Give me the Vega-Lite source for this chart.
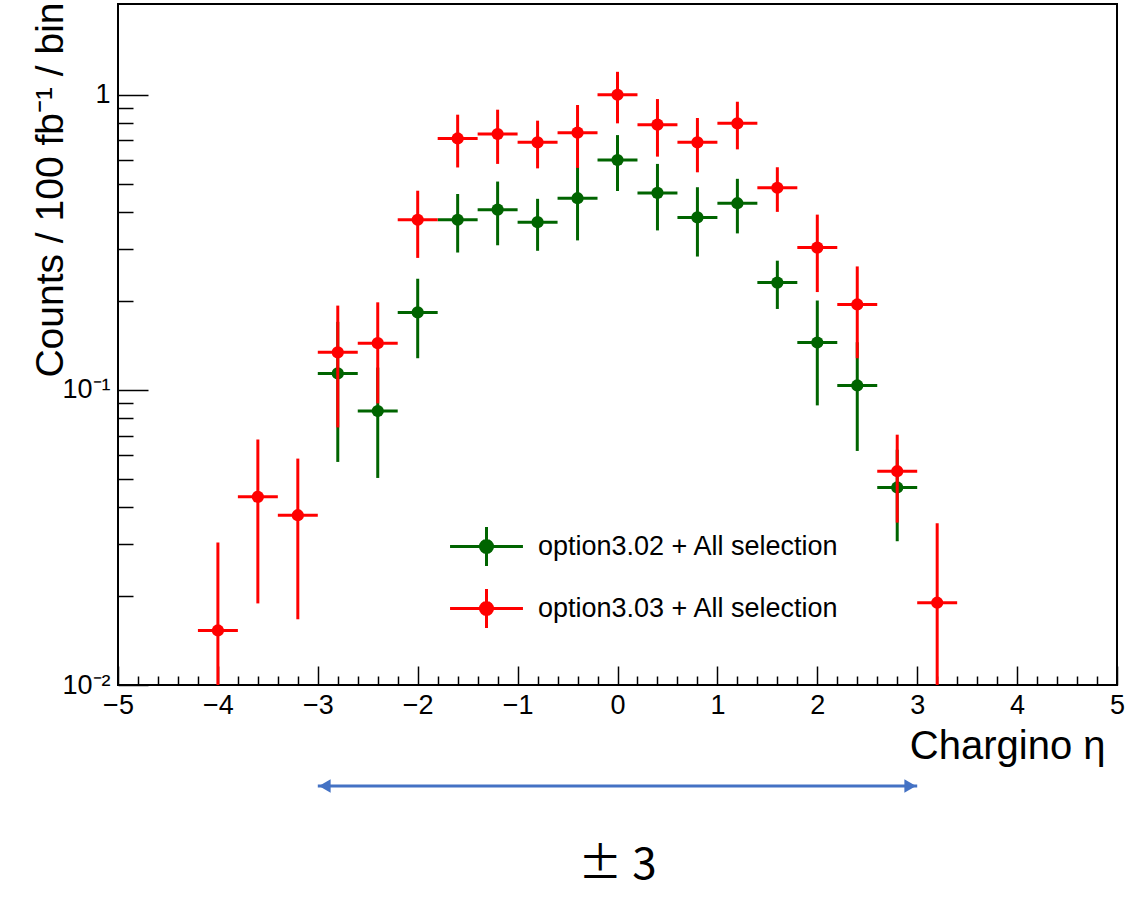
{
  "$schema": "https://vega.github.io/schema/vega-lite/v6.json",
  "width": 999,
  "height": 681,
  "autosize": {"type": "none"},
  "padding": {"left": 118, "top": 4, "right": 15, "bottom": 215},
  "background": "white",
  "config": {"view": {"stroke": "black", "strokeWidth": 2}, "font": "Liberation Sans"},
  "datasets": {
    "hist": [
      {"series": "option3.02 + All selection", "eta": -2.8, "etaLo": -3.0, "etaHi": -2.6, "v": 0.1137, "lo": 0.057, "hi": 0.170},
      {"series": "option3.02 + All selection", "eta": -2.4, "etaLo": -2.6, "etaHi": -2.2, "v": 0.0848, "lo": 0.0503, "hi": 0.119},
      {"series": "option3.02 + All selection", "eta": -2.0, "etaLo": -2.2, "etaHi": -1.8, "v": 0.183, "lo": 0.128, "hi": 0.238},
      {"series": "option3.02 + All selection", "eta": -1.6, "etaLo": -1.8, "etaHi": -1.4, "v": 0.377, "lo": 0.292, "hi": 0.461},
      {"series": "option3.02 + All selection", "eta": -1.2, "etaLo": -1.4, "etaHi": -1.0, "v": 0.408, "lo": 0.309, "hi": 0.508},
      {"series": "option3.02 + All selection", "eta": -0.8, "etaLo": -1.0, "etaHi": -0.6, "v": 0.370, "lo": 0.296, "hi": 0.444},
      {"series": "option3.02 + All selection", "eta": -0.4, "etaLo": -0.6, "etaHi": -0.2, "v": 0.446, "lo": 0.321, "hi": 0.571},
      {"series": "option3.02 + All selection", "eta": 0.0, "etaLo": -0.2, "etaHi": 0.2, "v": 0.601, "lo": 0.472, "hi": 0.730},
      {"series": "option3.02 + All selection", "eta": 0.4, "etaLo": 0.2, "etaHi": 0.6, "v": 0.465, "lo": 0.347, "hi": 0.583},
      {"series": "option3.02 + All selection", "eta": 0.8, "etaLo": 0.6, "etaHi": 1.0, "v": 0.384, "lo": 0.283, "hi": 0.486},
      {"series": "option3.02 + All selection", "eta": 1.2, "etaLo": 1.0, "etaHi": 1.4, "v": 0.429, "lo": 0.339, "hi": 0.519},
      {"series": "option3.02 + All selection", "eta": 1.6, "etaLo": 1.4, "etaHi": 1.8, "v": 0.231, "lo": 0.188, "hi": 0.274},
      {"series": "option3.02 + All selection", "eta": 2.0, "etaLo": 1.8, "etaHi": 2.2, "v": 0.1447, "lo": 0.0886, "hi": 0.2008},
      {"series": "option3.02 + All selection", "eta": 2.4, "etaLo": 2.2, "etaHi": 2.6, "v": 0.1035, "lo": 0.0621, "hi": 0.145},
      {"series": "option3.02 + All selection", "eta": 2.8, "etaLo": 2.6, "etaHi": 3.0, "v": 0.0467, "lo": 0.0307, "hi": 0.0627},
      {"series": "option3.03 + All selection", "eta": -4.0, "etaLo": -4.2, "etaHi": -3.8, "v": 0.0153, "lo": 0.0002, "hi": 0.0304},
      {"series": "option3.03 + All selection", "eta": -3.6, "etaLo": -3.8, "etaHi": -3.4, "v": 0.0434, "lo": 0.0189, "hi": 0.0679},
      {"series": "option3.03 + All selection", "eta": -3.2, "etaLo": -3.4, "etaHi": -3.0, "v": 0.0376, "lo": 0.0167, "hi": 0.0585},
      {"series": "option3.03 + All selection", "eta": -2.8, "etaLo": -3.0, "etaHi": -2.6, "v": 0.134, "lo": 0.0746, "hi": 0.193},
      {"series": "option3.03 + All selection", "eta": -2.4, "etaLo": -2.6, "etaHi": -2.2, "v": 0.144, "lo": 0.090, "hi": 0.198},
      {"series": "option3.03 + All selection", "eta": -2.0, "etaLo": -2.2, "etaHi": -1.8, "v": 0.377, "lo": 0.280, "hi": 0.473},
      {"series": "option3.03 + All selection", "eta": -1.6, "etaLo": -1.8, "etaHi": -1.4, "v": 0.711, "lo": 0.567, "hi": 0.856},
      {"series": "option3.03 + All selection", "eta": -1.2, "etaLo": -1.4, "etaHi": -1.0, "v": 0.736, "lo": 0.583, "hi": 0.890},
      {"series": "option3.03 + All selection", "eta": -0.8, "etaLo": -1.0, "etaHi": -0.6, "v": 0.690, "lo": 0.563, "hi": 0.817},
      {"series": "option3.03 + All selection", "eta": -0.4, "etaLo": -0.6, "etaHi": -0.2, "v": 0.744, "lo": 0.565, "hi": 0.923},
      {"series": "option3.03 + All selection", "eta": 0.0, "etaLo": -0.2, "etaHi": 0.2, "v": 1.0, "lo": 0.80, "hi": 1.196},
      {"series": "option3.03 + All selection", "eta": 0.4, "etaLo": 0.2, "etaHi": 0.6, "v": 0.792, "lo": 0.617, "hi": 0.967},
      {"series": "option3.03 + All selection", "eta": 0.8, "etaLo": 0.6, "etaHi": 1.0, "v": 0.690, "lo": 0.546, "hi": 0.834},
      {"series": "option3.03 + All selection", "eta": 1.2, "etaLo": 1.0, "etaHi": 1.4, "v": 0.800, "lo": 0.653, "hi": 0.947},
      {"series": "option3.03 + All selection", "eta": 1.6, "etaLo": 1.4, "etaHi": 1.8, "v": 0.484, "lo": 0.401, "hi": 0.568},
      {"series": "option3.03 + All selection", "eta": 2.0, "etaLo": 1.8, "etaHi": 2.2, "v": 0.3035, "lo": 0.2145, "hi": 0.3925},
      {"series": "option3.03 + All selection", "eta": 2.4, "etaLo": 2.2, "etaHi": 2.6, "v": 0.1947, "lo": 0.128, "hi": 0.262},
      {"series": "option3.03 + All selection", "eta": 2.8, "etaLo": 2.6, "etaHi": 3.0, "v": 0.053, "lo": 0.0355, "hi": 0.0705},
      {"series": "option3.03 + All selection", "eta": 3.2, "etaLo": 3.0, "etaHi": 3.4, "v": 0.019, "lo": 0.0027, "hi": 0.0353}
    ],
    "arrow": [{"from": -3, "to": 3, "level": 0.00455}],
    "heads": [{"eta": -2.93, "level": 0.00455, "dir": "triangle-left"}, {"eta": 2.93, "level": 0.00455, "dir": "triangle-right"}],
    "note": [{"eta": 0, "level": 0.00244, "text": "± 3"}]
  },
  "resolve": {"axis": {"x": "independent", "y": "independent"}},
  "layer": [
    {
      "data": {"name": "hist"},
      "transform": [{"filter": "datum.series === 'option3.02 + All selection'"}],
      "mark": {"type": "rule", "strokeWidth": 3, "clip": true, "color": "#006400"},
      "encoding": {
        "x": {"field": "etaLo", "type": "quantitative", "scale": {"domain": [-5, 5], "nice": false, "zero": false},
          "axis": {"orient": "bottom", "values": [-5, -4, -3, -2, -1, 0, 1, 2, 3, 4, 5], "tickSize": -19, "tickWidth": 1.5, "tickColor": "black",
            "labelPadding": 26, "labelFontSize": 27, "labelColor": "black", "labelFont": "Liberation Sans", "labelFlush": false, "labelOverlap": false,
            "domain": false, "grid": false,
            "title": "Chargino η", "titleFontSize": 40, "titleFontWeight": "normal", "titleColor": "black", "titleFont": "Liberation Sans",
            "titleAnchor": null, "titleAlign": "right", "titleBaseline": "alphabetic", "titleX": 987, "titleY": 73}},
        "x2": {"field": "etaHi"},
        "y": {"field": "v", "type": "quantitative", "scale": {"type": "log", "domain": [0.01, 2.03], "nice": false},
          "axis": {"orient": "left", "values": [0.01, 0.1, 1], "tickSize": -30, "tickWidth": 1.5, "tickColor": "black",
            "labelPadding": 38, "labelFontSize": 27, "labelColor": "black", "labelFont": "Liberation Sans", "labelFlush": false, "labelOverlap": false,
            "labelExpr": "datum.value >= 0.99 ? '1' : (datum.value >= 0.099 ? '10⁻¹' : '10⁻²')",
            "domain": false, "grid": false,
            "title": "Counts / 100 fb⁻¹ / bin", "titleFontSize": 39, "titleFontWeight": "normal", "titleColor": "black", "titleFont": "Liberation Sans",
            "titleAnchor": null, "titleAngle": -90, "titleAlign": "right", "titleBaseline": "alphabetic", "titleX": -56, "titleY": -2}}
      }
    },
    {
      "data": {"name": "hist"},
      "transform": [{"filter": "datum.series === 'option3.02 + All selection'"}],
      "mark": {"type": "rule", "strokeWidth": 3, "clip": true, "color": "#006400"},
      "encoding": {
        "x": {"field": "eta", "type": "quantitative", "scale": {"domain": [-5, 5], "nice": false, "zero": false},
          "axis": {"orient": "bottom", "values": [-4.8, -4.6, -4.4, -4.2, -3.8, -3.6, -3.4, -3.2, -2.8, -2.6, -2.4, -2.2, -1.8, -1.6, -1.4, -1.2, -0.8, -0.6, -0.4, -0.2, 0.2, 0.4, 0.6, 0.8, 1.2, 1.4, 1.6, 1.8, 2.2, 2.4, 2.6, 2.8, 3.2, 3.4, 3.6, 3.8, 4.2, 4.4, 4.6, 4.8],
            "tickSize": -9, "tickWidth": 1.5, "tickColor": "black", "labels": false, "domain": false, "grid": false, "title": null}},
        "y": {"field": "lo", "type": "quantitative", "scale": {"type": "log", "domain": [0.01, 2.03], "nice": false},
          "axis": {"orient": "left", "values": [0.02, 0.03, 0.04, 0.05, 0.06, 0.07, 0.08, 0.09, 0.2, 0.3, 0.4, 0.5, 0.6, 0.7, 0.8, 0.9],
            "tickSize": -15, "tickWidth": 1.5, "tickColor": "black", "labels": false, "domain": false, "grid": false, "title": null}},
        "y2": {"field": "hi"}
      }
    },
    {
      "data": {"name": "hist"},
      "transform": [{"filter": "datum.series === 'option3.02 + All selection'"}],
      "mark": {"type": "point", "filled": true, "shape": "circle", "size": 150, "opacity": 1, "clip": true},
      "encoding": {
        "x": {"field": "eta", "type": "quantitative", "scale": {"domain": [-5, 5], "nice": false, "zero": false}, "axis": null},
        "y": {"field": "v", "type": "quantitative", "scale": {"type": "log", "domain": [0.01, 2.03], "nice": false}, "axis": null},
        "color": {"field": "series", "type": "nominal", "scale": {"domain": ["option3.02 + All selection", "option3.03 + All selection"], "range": ["#006400", "#ff0000"]},
          "legend": {"orient": "none", "legendX": 344.5, "legendY": 518.5, "direction": "vertical", "title": null, "padding": 0,
            "symbolType": "M-1.62,0H1.62M0,-0.87V0.87M-0.27,0A0.27,0.27,0,1,0,0.27,0A0.27,0.27,0,1,0,-0.27,0Z",
            "symbolSize": 2025, "symbolStrokeWidth": 3, "symbolOpacity": 1,
            "labelFontSize": 27, "labelFont": "Liberation Sans", "labelColor": "black", "labelOffset": 27.5, "labelLimit": 600, "rowPadding": 10,
            "encode": {"symbols": {"update": {"stroke": {"scale": "color", "field": "value"}, "fill": {"scale": "color", "field": "value"}, "strokeWidth": {"value": 3}, "opacity": {"value": 1}}}}}}
      }
    },
    {
      "data": {"name": "hist"},
      "transform": [{"filter": "datum.series === 'option3.03 + All selection'"}],
      "mark": {"type": "rule", "strokeWidth": 3, "clip": true, "color": "#ff0000"},
      "encoding": {
        "x": {"field": "etaLo", "type": "quantitative", "scale": {"domain": [-5, 5], "nice": false, "zero": false}, "axis": null},
        "x2": {"field": "etaHi"},
        "y": {"field": "v", "type": "quantitative", "scale": {"type": "log", "domain": [0.01, 2.03], "nice": false}, "axis": null}
      }
    },
    {
      "data": {"name": "hist"},
      "transform": [{"filter": "datum.series === 'option3.03 + All selection'"}],
      "mark": {"type": "rule", "strokeWidth": 3, "clip": true, "color": "#ff0000"},
      "encoding": {
        "x": {"field": "eta", "type": "quantitative", "scale": {"domain": [-5, 5], "nice": false, "zero": false}, "axis": null},
        "y": {"field": "lo", "type": "quantitative", "scale": {"type": "log", "domain": [0.01, 2.03], "nice": false}, "axis": null},
        "y2": {"field": "hi"}
      }
    },
    {
      "data": {"name": "hist"},
      "transform": [{"filter": "datum.series === 'option3.03 + All selection'"}],
      "mark": {"type": "point", "filled": true, "shape": "circle", "size": 150, "opacity": 1, "clip": true, "color": "#ff0000"},
      "encoding": {
        "x": {"field": "eta", "type": "quantitative", "scale": {"domain": [-5, 5], "nice": false, "zero": false}, "axis": null},
        "y": {"field": "v", "type": "quantitative", "scale": {"type": "log", "domain": [0.01, 2.03], "nice": false}, "axis": null}
      }
    },
    {
      "data": {"name": "arrow"},
      "mark": {"type": "rule", "strokeWidth": 3, "color": "#4472c4", "clip": false},
      "encoding": {
        "x": {"field": "from", "type": "quantitative", "scale": {"domain": [-5, 5], "nice": false, "zero": false}, "axis": null},
        "x2": {"field": "to"},
        "y": {"field": "level", "type": "quantitative", "scale": {"type": "log", "domain": [0.01, 2.03], "nice": false}, "axis": null}
      }
    },
    {
      "data": {"name": "heads"},
      "mark": {"type": "point", "filled": true, "size": 180, "opacity": 1, "color": "#4472c4", "clip": false},
      "encoding": {
        "x": {"field": "eta", "type": "quantitative", "scale": {"domain": [-5, 5], "nice": false, "zero": false}, "axis": null},
        "y": {"field": "level", "type": "quantitative", "scale": {"type": "log", "domain": [0.01, 2.03], "nice": false}, "axis": null},
        "shape": {"field": "dir", "type": "nominal", "scale": {"domain": ["triangle-left", "triangle-right"], "range": ["triangle-left", "triangle-right"]}, "legend": null}
      }
    },
    {
      "data": {"name": "note"},
      "mark": {"type": "text", "fontSize": 44, "font": "Noto Sans CJK JP", "fontWeight": "normal", "color": "black", "align": "center", "baseline": "middle", "clip": false},
      "encoding": {
        "x": {"field": "eta", "type": "quantitative", "scale": {"domain": [-5, 5], "nice": false, "zero": false}, "axis": null},
        "y": {"field": "level", "type": "quantitative", "scale": {"type": "log", "domain": [0.01, 2.03], "nice": false}, "axis": null},
        "text": {"field": "text"}
      }
    }
  ]
}
